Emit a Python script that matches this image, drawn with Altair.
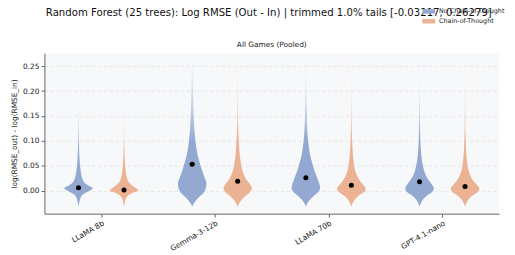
import altair as alt
import pandas as pd

TITLE = "Random Forest (25 trees): Log RMSE (Out - In) | trimmed 1.0% tails [-0.03217, 0.26279]"
SUBTITLE = "All Games (Pooled)"
MODELS = ["LLaMA 8b", "Gemma-3-12b", "LLaMA 70b", "GPT-4.1-nano"]
SERIES = ["No Chain-of-Thought", "Chain-of-Thought"]
COLORS = ["#93A9D1", "#EBB293"]
COLORS_RGB = [(147, 169, 209), (235, 178, 147)]

# y grid for density profiles
Y_LEVELS = [-0.032, -0.027, -0.021, -0.015, -0.009, -0.004, 0.0, 0.005, 0.01, 0.016,
            0.022, 0.03, 0.04, 0.05, 0.062, 0.075, 0.09, 0.11, 0.13, 0.155, 0.18,
            0.205, 0.23, 0.263]

# relative density (peak = 1) per model / series
DENS_NOCOT = {
    "LLaMA 8b":     [0, 0.03, 0.07, 0.13, 0.25, 0.5, 0.78, 1.0, 0.72, 0.42, 0.3, 0.21, 0.15,
                     0.11, 0.075, 0.05, 0.032, 0.018, 0.01, 0.004, 0, 0, 0, 0],
    "Gemma-3-12b":  [0, 0.08, 0.22, 0.4, 0.62, 0.8, 0.88, 0.95, 0.99, 1.0, 0.93, 0.82, 0.7,
                     0.59, 0.47, 0.36, 0.27, 0.19, 0.14, 0.1, 0.075, 0.055, 0.035, 0.006],
    "LLaMA 70b":    [0, 0.07, 0.2, 0.38, 0.6, 0.82, 0.93, 1.0, 0.98, 0.92, 0.84, 0.74, 0.6,
                     0.5, 0.38, 0.28, 0.2, 0.13, 0.085, 0.055, 0.035, 0.022, 0.014, 0.005],
    "GPT-4.1-nano": [0, 0.06, 0.16, 0.32, 0.55, 0.82, 0.95, 1.0, 0.92, 0.78, 0.62, 0.46, 0.32,
                     0.24, 0.16, 0.11, 0.075, 0.05, 0.035, 0.024, 0.016, 0.011, 0.007, 0.003],
}
DENS_COT = {
    "LLaMA 8b":     [0, 0.03, 0.07, 0.14, 0.3, 0.62, 1.0, 0.85, 0.6, 0.36, 0.25, 0.17, 0.12,
                     0.085, 0.055, 0.035, 0.02, 0.01, 0.004, 0, 0, 0, 0, 0],
    "Gemma-3-12b":  [0, 0.08, 0.2, 0.38, 0.6, 0.82, 0.93, 1.0, 0.93, 0.78, 0.62, 0.47, 0.34,
                     0.26, 0.19, 0.14, 0.1, 0.065, 0.045, 0.03, 0.022, 0.015, 0.01, 0.004],
    "LLaMA 70b":    [0, 0.06, 0.16, 0.32, 0.55, 0.82, 0.96, 1.0, 0.88, 0.7, 0.55, 0.4, 0.27,
                     0.2, 0.14, 0.1, 0.07, 0.045, 0.03, 0.02, 0.013, 0.009, 0.006, 0.003],
    "GPT-4.1-nano": [0, 0.06, 0.16, 0.32, 0.56, 0.83, 0.96, 1.0, 0.88, 0.7, 0.52, 0.38, 0.26,
                     0.18, 0.13, 0.09, 0.06, 0.04, 0.027, 0.018, 0.012, 0.008, 0.004, 0],
}

MEAN_NOCOT = [0.006, 0.053, 0.026, 0.018]
MEAN_COT = [0.0015, 0.019, 0.011, 0.0087]

OFFSET = 0.2
HALF_W = 0.1255

rows = []
for i, m in enumerate(MODELS):
    for s, dens, sign in [(SERIES[0], DENS_NOCOT[m], -1), (SERIES[1], DENS_COT[m], 1)]:
        c = i + sign * OFFSET
        for y, d in zip(Y_LEVELS, dens):
            rows.append({"vid": f"{m}|{s}", "series": s, "yv": y,
                         "xl": c - d * HALF_W, "xr": c + d * HALF_W})
vdf = pd.DataFrame(rows)

mrows = []
for i, m in enumerate(MODELS):
    mrows.append({"series": SERIES[0], "xm": i - OFFSET, "ym": MEAN_NOCOT[i]})
    mrows.append({"series": SERIES[1], "xm": i + OFFSET, "ym": MEAN_COT[i]})
mdf = pd.DataFrame(mrows)

label_expr = " : ".join(
    [f"datum.value == {i} ? '{m}'" for i, m in enumerate(MODELS)]) + " : ''"

xscale = alt.Scale(domain=[-0.5, 3.5], nice=False, zero=False)
yscale = alt.Scale(domain=[-0.046, 0.276], nice=False, zero=False)

xaxis = alt.Axis(values=[0, 1, 2, 3], labelExpr=label_expr, labelAngle=-30,
                 labelAlign="right", labelBaseline="top", title=None, grid=False,
                 labelFontSize=7.5, tickSize=3.5, domainColor="#666", tickColor="#666",
                 labelColor="#222", labelPadding=2)
yaxis = alt.Axis(values=[0, 0.05, 0.1, 0.15, 0.2, 0.25], format=".2f",
                 title="log(RMSE_out) - log(RMSE_in)", titleFontSize=7.5,
                 titleFontWeight="normal", titleColor="#222", titlePadding=4,
                 labelFontSize=7.5, labelColor="#222", tickSize=3.5,
                 domainColor="#666", tickColor="#666",
                 grid=True, gridDash=[3, 3], gridColor="#dddddd", gridWidth=0.7)


def fade(rgb):
    r, g, b = rgb
    stops = [(0.0, 0.08), (0.2, 0.3), (0.38, 0.62), (0.55, 1.0), (1.0, 1.0)]
    return alt.Gradient(
        gradient="linear", x1=0, x2=0, y1=0, y2=1,
        stops=[alt.GradientStop(offset=o, color=f"rgba({r},{g},{b},{a})") for o, a in stops])


violin_layers = []
for s, rgb in zip(SERIES, COLORS_RGB):
    violin_layers.append(
        alt.Chart(vdf).transform_filter(alt.datum.series == s)
        .mark_area(orient="horizontal", interpolate="monotone", color=fade(rgb))
        .encode(
            y=alt.Y("yv:Q", scale=yscale, axis=yaxis),
            x=alt.X("xl:Q", scale=xscale, axis=xaxis, stack=None),
            x2=alt.X2("xr:Q"),
            detail="vid:N",
        )
    )

legend_layer = alt.Chart(mdf).mark_point(filled=True, opacity=0, size=1).encode(
    x=alt.X("xm:Q", scale=xscale, axis=xaxis),
    y=alt.Y("ym:Q", scale=yscale, axis=yaxis),
    color=alt.Color("series:N",
                    scale=alt.Scale(domain=SERIES, range=COLORS),
                    legend=alt.Legend(title=None, orient="none", legendX=384, legendY=-49,
                                      symbolType="M-1,-0.35L1,-0.35L1,0.35L-1,0.35Z",
                                      symbolSize=169, symbolStrokeWidth=0,
                                      symbolOpacity=1, labelFontSize=6.5, rowPadding=-2.7,
                                      labelColor="#222", padding=0, zindex=2)),
)

means = alt.Chart(mdf).mark_point(filled=True, color="black", size=26, opacity=1).encode(
    x=alt.X("xm:Q", scale=xscale, axis=xaxis),
    y=alt.Y("ym:Q", scale=yscale, axis=yaxis),
)

texts = alt.Chart(pd.DataFrame({"t": [SUBTITLE]})).mark_text(
    fontSize=7.5, color="#222", baseline="middle", align="center"
).encode(text="t:N", x=alt.value(231), y=alt.value(-8.5))

title = alt.Chart(pd.DataFrame({"t": [TITLE]})).mark_text(
    fontSize=10.3, color="#111", baseline="middle", align="center"
).encode(text="t:N", x=alt.value(228), y=alt.value(-41))

chart = alt.layer(*violin_layers, legend_layer, means, texts, title).properties(
    width=462, height=163,
    autosize=alt.AutoSizeParams(type="none"),
    padding={"left": 37, "top": 44, "right": 8, "bottom": 40},
).configure(font="DejaVu Sans").configure_view(fill="#F7F8FA", stroke=None)

chart.save("out.html", embed_options={"renderer": "svg", "actions": False})
